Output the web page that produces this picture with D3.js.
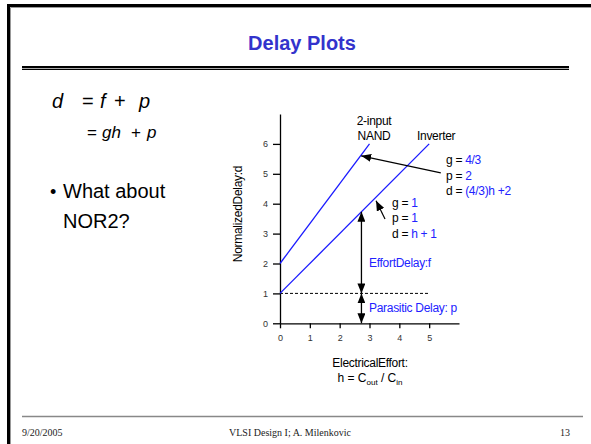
<!DOCTYPE html>
<html>
<head>
<meta charset="utf-8">
<script src="https://cdn.jsdelivr.net/npm/d3@7"></script>
<style>
  body { margin: 0; background: #fff; }
  svg { display: block; font-family: Arial, "Liberation Sans", sans-serif; }
</style>
</head>
<body>
<svg id="slide" width="591" height="444"></svg>
<script>
// chart values
const xTicks = [0, 1, 2, 3, 4, 5];
const yTicks = [0, 1, 2, 3, 4, 5, 6];
const inverter = [{ h: 0, d: 1 }, { h: 5, d: 6 }];
const nand = [{ h: 0, d: 2 }, { h: 3, d: 6 }];
const parasitic = [{ h: 0, d: 1 }, { h: 5, d: 1 }];
const arrowH = 2.73;
const effortSpan = [1, 3.73];
const parasiticSpan = [0, 1];

const svg = d3.select("#slide");

//slide frame
svg.append("path")
    .attr("d", "M8.5,444 V5.5 H591")
    .attr("fill", "none")
    .attr("stroke", "#000")
    .attr("stroke-width", 3);
svg.append("path")
    .attr("d", "M10.5,444 V7.5 H591")
    .attr("fill", "none")
    .attr("stroke", "#999")
    .attr("stroke-width", 1);

//title and double rule
svg.append("text")
    .attr("x", 302)
    .attr("y", 50)
    .attr("text-anchor", "middle")
    .style("font-size", "20px")
    .style("font-weight", "bold")
    .style("fill", "#3333cc")
    .text("Delay Plots");

svg.append("rect").attr("x", 22).attr("y", 66).attr("width", 547).attr("height", 4).attr("fill", "#aaa");
svg.append("line").attr("x1", 22).attr("x2", 569).attr("y1", 67).attr("y2", 67)
    .attr("stroke", "#000").attr("stroke-width", 2);
svg.append("line").attr("x1", 22).attr("x2", 569).attr("y1", 69.5).attr("y2", 69.5)
    .attr("stroke", "#000").attr("stroke-width", 1);

//left text block
const eq1 = svg.append("text").attr("y", 108).style("font-size", "20px").style("fill", "#000");
eq1.append("tspan").attr("x", 52).style("font-style", "italic").text("d");
eq1.append("tspan").attr("x", 82).text("=");
eq1.append("tspan").attr("x", 100).style("font-style", "italic").text("f");
eq1.append("tspan").attr("x", 114).text("+");
eq1.append("tspan").attr("x", 139).style("font-style", "italic").text("p");

const eq2 = svg.append("text").attr("y", 138).style("font-size", "17px").style("fill", "#000");
eq2.append("tspan").attr("x", 87).text("=");
eq2.append("tspan").attr("x", 102).style("font-style", "italic").text("gh");
eq2.append("tspan").attr("x", 131).text("+");
eq2.append("tspan").attr("x", 147).style("font-style", "italic").text("p");

svg.append("text").attr("x", 50).attr("y", 198).style("font-size", "18px").text("•");
svg.append("text").attr("x", 63).attr("y", 198).style("font-size", "20px").text("What about");
svg.append("text").attr("x", 63).attr("y", 228).style("font-size", "20px").text("NOR2?");

//footer
svg.append("line").attr("x1", 22).attr("x2", 583).attr("y1", 416.5).attr("y2", 416.5)
    .attr("stroke", "#888").attr("stroke-width", 1.5);
const foot = svg.append("g")
    .style("font-family", "'Liberation Serif', 'Times New Roman', serif")
    .style("font-size", "10px")
    .style("fill", "#222");
foot.append("text").attr("x", 22).attr("y", 436).text("9/20/2005");
foot.append("text").attr("x", 290).attr("y", 436).attr("text-anchor", "middle").text("VLSI Design I;  A. Milenkovic");
foot.append("text").attr("x", 570).attr("y", 436).attr("text-anchor", "end").text("13");

//scales for the plot
const x = d3.scaleLinear().domain([0, 6]).range([280, 459]);
const y = d3.scaleLinear().domain([0, 7]).range([323.3, 114]);

const plot = svg.append("g");

//x-axis
const gx = plot.append("g")
    .attr("transform", `translate(0, ${y(0)})`)
    .call(d3.axisBottom(x).tickValues(xTicks).tickFormat(d3.format("d"))
        .tickSize(5).tickSizeOuter(0).tickPadding(6));
gx.selectAll("text").style("font-size", "9px").style("fill", "#333").style("font-family", "Arial, 'Liberation Sans', sans-serif");

//y-axis
const gy = plot.append("g")
    .attr("transform", `translate(${x(0)}, 0)`)
    .call(d3.axisLeft(y).tickValues(yTicks).tickFormat(d3.format("d"))
        .tickSize(7).tickSizeOuter(0).tickPadding(5));
gy.selectAll("text").style("font-size", "9px").style("fill", "#333").style("font-family", "Arial, 'Liberation Sans', sans-serif");

plot.selectAll(".domain, .tick line").attr("stroke", "#000").attr("stroke-width", 1.3);

//axis titles
plot.append("text")
    .attr("transform", "rotate(-90)")
    .attr("x", -214)
    .attr("y", 242)
    .attr("text-anchor", "middle")
    .style("font-size", "12px")
    .style("letter-spacing", "-0.3px")
    .text("NormalizedDelay:d");

plot.append("text")
    .attr("x", 370)
    .attr("y", 367)
    .attr("text-anchor", "middle")
    .style("font-size", "12px")
    .style("letter-spacing", "-0.3px")
    .text("ElectricalEffort:");

const hl = plot.append("text")
    .attr("x", 370)
    .attr("y", 382)
    .attr("text-anchor", "middle")
    .style("font-size", "12px");
hl.append("tspan").text("h = C");
hl.append("tspan").attr("dy", 3).style("font-size", "8px").text("out");
hl.append("tspan").attr("dy", -3).text(" / C");
hl.append("tspan").attr("dy", 3).style("font-size", "8px").text("in");

//lines
const line = d3.line().x(d => x(d.h)).y(d => y(d.d));

plot.append("path")
    .datum(parasitic)
    .attr("d", line)
    .attr("fill", "none")
    .attr("stroke", "#000")
    .attr("stroke-width", 1)
    .attr("stroke-dasharray", "3,2");

[inverter, nand].forEach(s => {
    plot.append("path")
        .datum(s)
        .attr("d", line)
        .attr("fill", "none")
        .attr("stroke", "#1a1aff")
        .attr("stroke-width", 1.3);
});

//arrow heads
const defs = svg.append("defs");
defs.append("marker")
    .attr("id", "head")
    .attr("markerUnits", "userSpaceOnUse")
    .attr("viewBox", "0 0 10 8")
    .attr("refX", 10)
    .attr("refY", 4)
    .attr("markerWidth", 10)
    .attr("markerHeight", 8)
    .attr("orient", "auto-start-reverse")
    .append("path")
    .attr("d", "M0,0 L10,4 L0,8 Z")
    .attr("fill", "#000");

//vertical double arrows
[effortSpan, parasiticSpan].forEach(span => {
    plot.append("line")
        .attr("x1", x(arrowH)).attr("x2", x(arrowH))
        .attr("y1", y(span[0])).attr("y2", y(span[1]))
        .attr("stroke", "#000")
        .attr("stroke-width", 1.3)
        .attr("marker-start", "url(#head)")
        .attr("marker-end", "url(#head)");
});

//pointer arrows
const pointers = [
    { from: { h: 5.39, d: 5.03 }, to: { h: 2.72, d: 5.6 } },
    { from: { h: 3.52, d: 3.49 }, to: { h: 3.22, d: 4.1 } }
];
pointers.forEach(p => {
    plot.append("line")
        .attr("x1", x(p.from.h)).attr("y1", y(p.from.d))
        .attr("x2", x(p.to.h)).attr("y2", y(p.to.d))
        .attr("stroke", "#000")
        .attr("stroke-width", 1.2)
        .attr("marker-end", "url(#head)");
});

//annotations
const ann = plot.append("g").style("font-size", "12px").style("letter-spacing", "-0.3px");
ann.append("text").attr("x", 374).attr("y", 125).attr("text-anchor", "middle").text("2-input");
ann.append("text").attr("x", 374).attr("y", 140).attr("text-anchor", "middle").text("NAND");
ann.append("text").attr("x", 417).attr("y", 140).text("Inverter");

function eqLabel(xp, yp, name, value) {
    const t = ann.append("text").attr("x", xp).attr("y", yp);
    t.append("tspan").text(name + " = ");
    t.append("tspan").style("fill", "#2222ff").text(value);
}
eqLabel(446, 164, "g", "4/3");
eqLabel(446, 180, "p", "2");
eqLabel(446, 195, "d", "(4/3)h +2");
eqLabel(392, 207, "g", "1");
eqLabel(392, 222, "p", "1");
eqLabel(392, 238, "d", "h + 1");

ann.append("text").attr("x", 369).attr("y", 267).style("fill", "#2222ff").text("EffortDelay:f");
ann.append("text").attr("x", 369).attr("y", 312).style("fill", "#2222ff").text("Parasitic Delay: p");
</script>
</body>
</html>
